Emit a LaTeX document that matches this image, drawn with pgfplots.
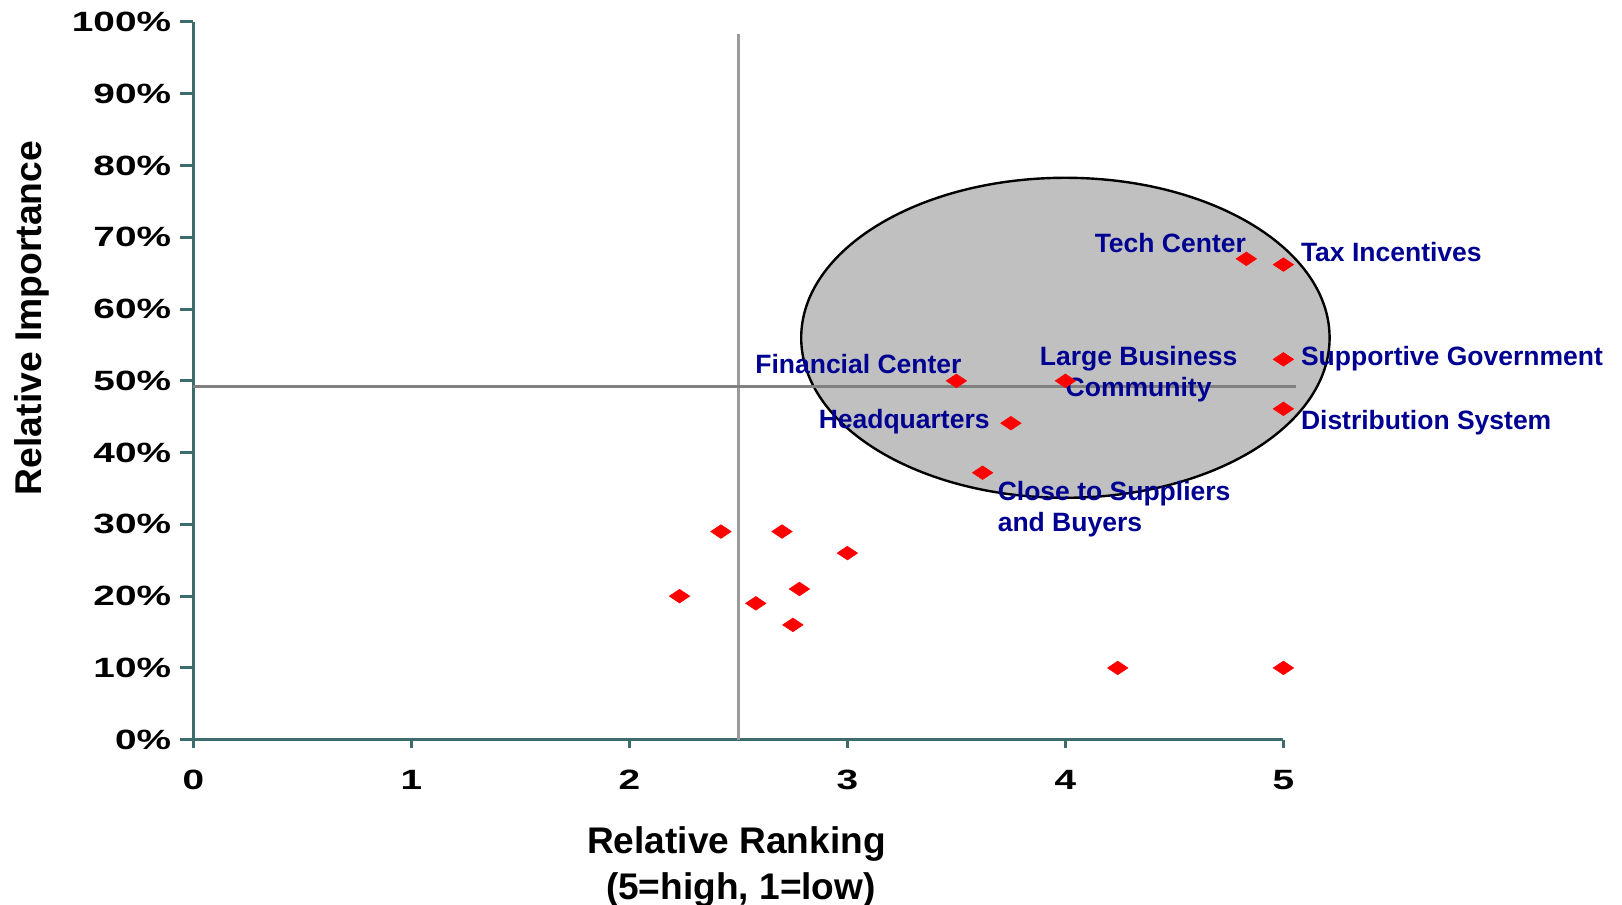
\documentclass[border=0pt]{standalone}
\usepackage{fontspec}
\setmainfont{Liberation Sans}
\usepackage{graphicx}
\usepackage{pgfplots}
\pgfplotsset{compat=1.18}

\definecolor{axisteal}{RGB}{62,108,108}
\definecolor{lblblue}{RGB}{0,0,145}
\definecolor{vline}{RGB}{155,155,155}
\definecolor{hline}{RGB}{128,128,128}
\definecolor{bubble}{RGB}{192,192,192}

% wide bold tick labels
\newcommand\wide[1]{\scalebox{1.39}[1]{#1}}

% relative ranking (x) vs relative importance in % (y)
\pgfplotstableread{
x     y
2.23  20
2.42  29
2.70  29
3.00  26
2.78  21
2.58  19
2.75  16
4.24  10
5.00  10
4.83  67
5.00  66.2
5.00  53
5.00  46.1
3.50  50
4.00  50
3.75  44.1
3.62  37.2
}\ratings

\begin{document}
\begin{tikzpicture}
\begin{axis}[
  scale only axis,
  width=545bp, height=358.85bp,
  xmin=0, xmax=5, ymin=0, ymax=100,
  clip=false,
  axis x line*=bottom, axis y line*=left,
  axis line style={axisteal, line width=1.5bp},
  tick style={axisteal, line width=1.5bp},
  tick align=outside,
  xtick={0,1,2,3,4,5},
  ytick={0,10,...,100},
  xticklabels={\wide{0},\wide{1},\wide{2},\wide{3},\wide{4},\wide{5}},
  yticklabels={\wide{0\%},\wide{10\%},\wide{20\%},\wide{30\%},\wide{40\%},\wide{50\%},\wide{60\%},\wide{70\%},\wide{80\%},\wide{90\%},\wide{100\%}},
  xtick style={/pgfplots/major tick length=4.3bp},
  ytick style={/pgfplots/major tick length=6.65bp},
  minor tick num=0,
  ticklabel style={font=\fontsize{14}{16}\selectfont\bfseries, text=black},
  xticklabel style={anchor=north, inner sep=0pt},
  yticklabel style={anchor=east, inner sep=0pt},
  xticklabel shift=10.7bp,
  yticklabel shift=6.7bp,
  ylabel={Relative Importance},
  ylabel style={at={(axis description cs:-0.1398,0.5876)}, anchor=base,
    font=\fontsize{18.7}{22}\selectfont\bfseries, inner sep=0pt},
]
% highlighted cluster
\draw[black, line width=1.2bp, fill=bubble] (axis cs:4.0,56.0) ellipse [x radius=132.1bp, y radius=80bp];

% quadrant dividers
\addplot[vline, line width=1.5bp, forget plot] coordinates {(2.5,0) (2.5,98.3)};
\addplot[hline, line width=1.35bp, forget plot] coordinates {(0,49.2) (5.06,49.2)};

% location factors
\addplot[only marks, mark=diamond*, mark size=3.4bp, red,
  mark options={xscale=2, fill=red, draw=red, line width=0.3bp}] table[x=x, y=y] {\ratings};

\begin{scope}[every node/.style={font=\fontsize{13.3}{15.85}\selectfont\bfseries, text=lblblue, inner sep=0pt}]
\node[anchor=base east, yshift=3bp] at (axis cs:4.83,67) {Tech Center};
\node[anchor=base west, xshift=8.6bp, yshift=1.5bp] at (axis cs:5,66.2) {Tax Incentives};
\node[anchor=base west, xshift=8.6bp, yshift=-3bp] at (axis cs:5,53) {Supportive Government};
\node[anchor=base west, xshift=8.6bp, yshift=-10.35bp] at (axis cs:5,46.1) {Distribution System};
\node[anchor=base east, xshift=2.75bp, yshift=3.7bp] at (axis cs:3.5,50) {Financial Center};
\node[anchor=base, xshift=36.6bp, yshift=7.85bp] at (axis cs:4,50) {Large Business};
\node[anchor=base, xshift=36.6bp, yshift=-8bp] at (axis cs:4,50) {Community};
\node[anchor=base east, xshift=-10.45bp, yshift=-2.6bp] at (axis cs:3.75,44.1) {Headquarters};
\node[anchor=base west, xshift=7.4bp, yshift=-13.65bp] at (axis cs:3.62,37.2) {Close to Suppliers};
\node[anchor=base west, xshift=7.4bp, yshift=-29.5bp] at (axis cs:3.62,37.2) {and Buyers};
\end{scope}

% x axis title, two lines
\begin{scope}[every node/.style={font=\fontsize{18.6}{22}\selectfont\bfseries, text=black, inner sep=0pt}]
\node[anchor=base] at (axis description cs:0.4983,-0.1583) {Relative Ranking};
\node[anchor=base] at (axis description cs:0.5023,-0.2232) {(5=high, 1=low)};
\end{scope}
\end{axis}
\pgfresetboundingbox
\path[use as bounding box] (-96.7bp,-82.65bp) rectangle (714.3bp,369.85bp);
\end{tikzpicture}
\end{document}
